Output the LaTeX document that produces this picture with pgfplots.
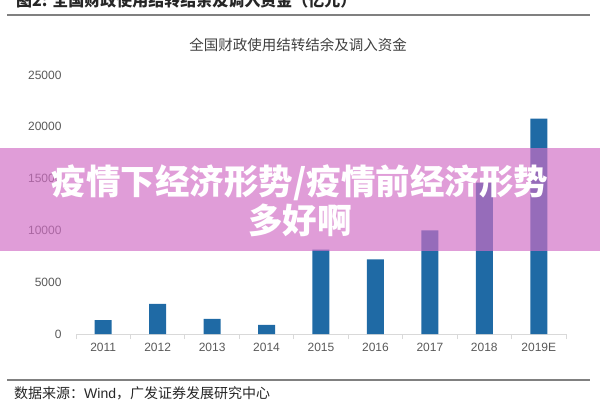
\documentclass[border=0pt]{standalone}
\usepackage{fontspec}
\usepackage{pgfplots}
\pgfplotsset{compat=1.18}
\setmainfont{Liberation Sans}
\newfontfamily\cjk{Noto Sans CJK SC}

\definecolor{barblue}{RGB}{31,106,165}
\definecolor{ticktext}{RGB}{89,89,89}
\definecolor{axisgray}{RGB}{217,217,217}
\definecolor{rulegray}{RGB}{128,128,128}
\definecolor{banner}{RGB}{209,109,197}

\begin{document}
\begin{tikzpicture}[x=1pt,y=1pt]
  \useasboundingbox (0,0) rectangle (600,400);
  \clip (0,0) rectangle (600,400);

  % header of the report figure, cut at the top
  \node[anchor=base west, inner sep=0pt, text=black!85] at (16,393)
    {\fontsize{16}{18}\selectfont\cjk\bfseries 图2: 全国财政使用结转结余及调入资金（亿元）};
  \draw[rulegray, line width=1.5pt] (7,385) -- (590,385);

  % chart title
  \node[text=black!75] at (298,355)
    {\fontsize{14.5}{16}\selectfont\cjk 全国财政使用结转结余及调入资金};

  \begin{axis}[
      at={(76pt,66pt)}, anchor=south west,
      scale only axis,
      width=490pt, height=259pt,
      ybar, bar width=17pt,
      xmin=-0.5, xmax=8.5,
      ymin=0, ymax=25000,
      ytick={0,5000,10000,15000,20000,25000},
      xtick=data,
      xticklabels={2011,2012,2013,2014,2015,2016,2017,2018,2019E},
      minor xtick={-0.5,0.5,...,8.5},
      tick align=outside,
      major tick length=0pt,
      minor tick length=5pt,
      axis x line*=bottom,
      axis y line*=left,
      x axis line style={-, draw=axisgray, line width=0.8pt},
      y axis line style={draw=none},
      xtick style={draw=axisgray, line width=0.8pt},
      ytick style={draw=none},
      scaled y ticks=false,
      /pgf/number format/assume math mode=true,
      yticklabel={\pgfmathprintnumber[set thousands separator={}]{\tick}},
      ticklabel style={font=\fontsize{12}{14}\selectfont, text=ticktext},
      yticklabel style={xshift=-11pt},
      xticklabel style={yshift=-6pt},
    ]
    \addplot[fill=barblue, draw=none] coordinates {
      (0,1350) (1,2900) (2,1450) (3,870) (4,8150)
      (5,7200) (6,10000) (7,14600) (8,20800)
    };
  \end{axis}

  % bottom rule and source
  \draw[rulegray, line width=1.5pt] (7,20) -- (590,20);
  \node[anchor=west, inner sep=0pt, text=black!85] at (14,7)
    {\fontsize{14}{16}\selectfont{\cjk 数据来源：}Wind{\cjk ，广发证券发展研究中心}};

  % translucent banner over the chart
  \fill[banner, opacity=0.67] (0,149) rectangle (600,252);
  \node[text=white, align=center, inner sep=0pt,
        font=\fontsize{34.5}{39}\selectfont\cjk\bfseries] at (300,199)
    {疫情下经济形势/疫情前经济形势\\多好啊};
\end{tikzpicture}
\end{document}
